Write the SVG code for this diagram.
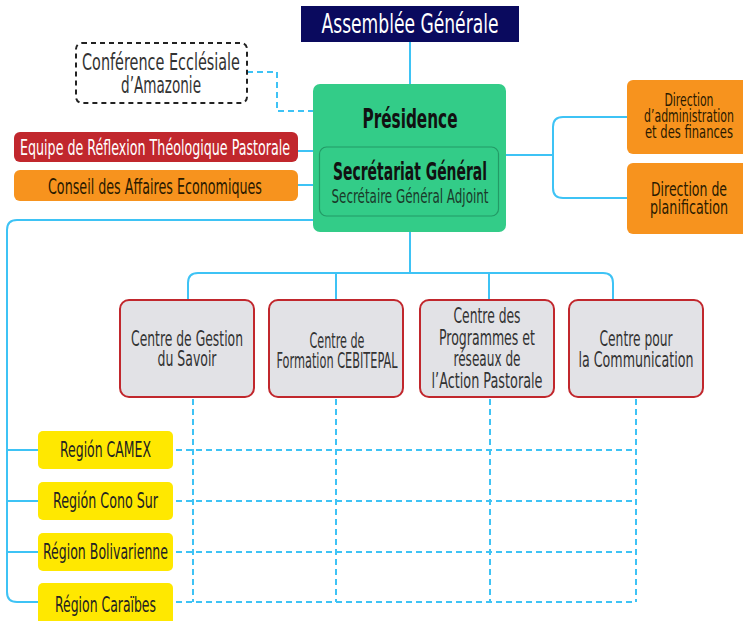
<svg xmlns="http://www.w3.org/2000/svg" width="743" height="621" viewBox="0 0 743 621">
<style>
text{font-family:"Liberation Sans Narrow","DejaVu Sans Condensed","Liberation Sans",sans-serif;text-anchor:middle}
.ln{fill:none;stroke:#3ec3f5;stroke-width:2}
.dl{fill:none;stroke:#3ec3f5;stroke-width:2;stroke-dasharray:6 4}
.ctr{fill:#e2e2e6;stroke:#c1272d;stroke-width:2}
.reg{fill:#ffe800}
.org{fill:#f7931e}
.ct{font-size:21px;fill:#333}
.rt{font-size:21px;fill:#222}
</style>
<g id="connectors">
<path class="ln" d="M410,42V84"/>
<path class="dl" d="M247,72H277V111H313"/>
<path class="ln" d="M298,151H313M298,185H313"/>
<path class="ln" d="M313,220H17Q7,220 7,230V592Q7,602 17,602H38M7,450H38M7,501H38M7,552H38"/>
<path class="ln" d="M410,232V273M188,300V283Q188,273 198,273H603Q613,273 613,283V300M336,273V300M489,273V300"/>
<path class="ln" d="M506,155H553M627,117H563Q553,117 553,127V188Q553,198 563,198H627"/>
<path class="dl" d="M176,450H636M176,501H636M176,552H636M176,602H636M193,399V602M336,399V602M490,399V602M636,399V602"/>
</g>
<g id="assemblee">
<rect x="301" y="6" width="218" height="36" fill="#0a0a5e"/>
<text x="410" y="32.5" font-size="26" fill="#fff" textLength="177" lengthAdjust="spacingAndGlyphs">Assemblée Générale</text>
</g>
<g id="conference">
<rect x="76" y="43" width="171" height="60" rx="6" fill="#fff" stroke="#222" stroke-width="2" stroke-dasharray="5 4"/>
<text x="161" y="70" font-size="23" fill="#333" textLength="158" lengthAdjust="spacingAndGlyphs">Conférence Ecclésiale</text>
<text x="161" y="93" font-size="23" fill="#333" textLength="80" lengthAdjust="spacingAndGlyphs">d’Amazonie</text>
</g>
<g id="presidence">
<rect x="313" y="84" width="193" height="148" rx="7" fill="#33cc88"/>
<text x="410" y="128" font-size="26" font-weight="bold" fill="#111" textLength="95" lengthAdjust="spacingAndGlyphs">Présidence</text>
<rect x="319.5" y="147" width="179" height="69" rx="7" fill="none" stroke="#239a66" stroke-width="1.2"/>
<text x="410" y="180" font-size="24" font-weight="bold" fill="#111" textLength="154" lengthAdjust="spacingAndGlyphs">Secrétariat Général</text>
<text x="410" y="203" font-size="19" fill="#1a3a2a" textLength="157" lengthAdjust="spacingAndGlyphs">Secrétaire Général Adjoint</text>
</g>
<g id="equipe">
<rect x="14" y="132" width="284" height="30" rx="6" fill="#c1272d"/>
<text x="155" y="155" font-size="21" fill="#fff" textLength="270" lengthAdjust="spacingAndGlyphs">Equipe de Réflexion Théologique Pastorale</text>
</g>
<g id="conseil">
<rect x="14" y="170" width="284" height="31" rx="6" class="org"/>
<text x="155" y="194" font-size="21" fill="#2a1a00" textLength="214" lengthAdjust="spacingAndGlyphs">Conseil des Affaires Economiques</text>
</g>
<g id="dir-admin">
<rect x="627" y="80" width="126" height="74" rx="6" class="org"/>
<text x="689" y="106" font-size="17" fill="#2a1a00" textLength="49" lengthAdjust="spacingAndGlyphs">Direction</text>
<text x="689" y="122" font-size="17" fill="#2a1a00" textLength="90" lengthAdjust="spacingAndGlyphs">d’administration</text>
<text x="689" y="138" font-size="17" fill="#2a1a00" textLength="88" lengthAdjust="spacingAndGlyphs">et des finances</text>
</g>
<g id="dir-plan">
<rect x="627" y="163" width="126" height="71" rx="6" class="org"/>
<text x="689" y="196" font-size="20" fill="#2a1a00" textLength="76" lengthAdjust="spacingAndGlyphs">Direction de</text>
<text x="689" y="214" font-size="20" fill="#2a1a00" textLength="78" lengthAdjust="spacingAndGlyphs">planification</text>
</g>
<g id="centre-gestion">
<rect x="120" y="300" width="134" height="97" rx="9" class="ctr"/>
<text x="187" y="346" class="ct" textLength="112" lengthAdjust="spacingAndGlyphs">Centre de Gestion</text>
<text x="187" y="366" class="ct" textLength="59" lengthAdjust="spacingAndGlyphs">du Savoir</text>
</g>
<g id="centre-formation">
<rect x="269" y="300" width="134" height="97" rx="9" class="ctr"/>
<text x="337" y="348" class="ct" font-size="18" textLength="55" lengthAdjust="spacingAndGlyphs">Centre de</text>
<text x="337" y="368" class="ct" font-size="18" textLength="121" lengthAdjust="spacingAndGlyphs">Formation CEBITEPAL</text>
</g>
<g id="centre-programmes">
<rect x="420" y="300" width="134" height="97" rx="9" class="ctr"/>
<text x="487" y="323" class="ct" textLength="67" lengthAdjust="spacingAndGlyphs">Centre des</text>
<text x="487" y="345" class="ct" textLength="96" lengthAdjust="spacingAndGlyphs">Programmes et</text>
<text x="487" y="366" class="ct" textLength="67" lengthAdjust="spacingAndGlyphs">réseaux de</text>
<text x="487" y="388" class="ct" textLength="111" lengthAdjust="spacingAndGlyphs">l’Action Pastorale</text>
</g>
<g id="centre-communication">
<rect x="569" y="300" width="134" height="97" rx="9" class="ctr"/>
<text x="636" y="346" class="ct" textLength="73" lengthAdjust="spacingAndGlyphs">Centre pour</text>
<text x="636" y="367" class="ct" textLength="115" lengthAdjust="spacingAndGlyphs">la Communication</text>
</g>
<g id="region-camex">
<rect x="38" y="431" width="135" height="38" rx="5" class="reg"/>
<text x="105.5" y="457" class="rt" textLength="91" lengthAdjust="spacingAndGlyphs">Región CAMEX</text>
</g>
<g id="region-cono-sur">
<rect x="38" y="482" width="135" height="38" rx="5" class="reg"/>
<text x="105.5" y="508" class="rt" textLength="105" lengthAdjust="spacingAndGlyphs">Región Cono Sur</text>
</g>
<g id="region-bolivarienne">
<rect x="38" y="533" width="135" height="38" rx="5" class="reg"/>
<text x="105.5" y="559" class="rt" textLength="125" lengthAdjust="spacingAndGlyphs">Région Bolivarienne</text>
</g>
<g id="region-caraibes">
<rect x="38" y="583" width="135" height="44" rx="5" class="reg"/>
<text x="105.5" y="612" class="rt" textLength="101" lengthAdjust="spacingAndGlyphs">Région Caraïbes</text>
</g>
</svg>
